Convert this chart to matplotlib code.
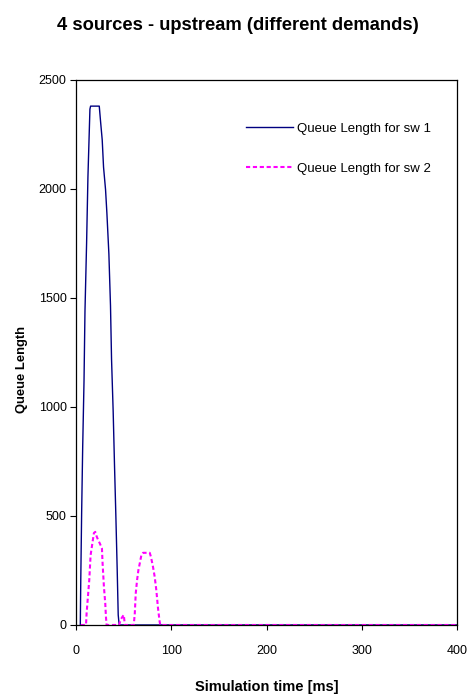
import matplotlib
matplotlib.use("Agg")
import matplotlib.pyplot as plt

plt.rcParams['font.family'] = ['Liberation Sans', 'DejaVu Sans']

title = "4 sources - upstream (different demands)"
xlabel = "Simulation time [ms]"
ylabel = "Queue Length"
labels = ["Queue Length for sw 1", "Queue Length for sw 2"]

sw1_t = [4.5, 5.0, 5.9, 7.0, 8.4, 9.4, 11.1, 12.5, 14.6, 15.3, 24.4, 25.8, 27.5,
         28.9, 31.0, 32.4, 34.5, 36.2, 37.3, 39.0, 40.4, 41.8, 43.2, 44.3, 45.3, 400]
sw1_v = [0, 210, 513, 816, 1120, 1439, 1751, 2054, 2366, 2380, 2380, 2308, 2225,
         2100, 1997, 1890, 1702, 1464, 1218, 980, 734, 505, 259, 46, 0, 0]

sw2_t = [4.9, 10.5, 11.1, 12.5, 13.9, 15.3, 17.1, 18.8, 20.2, 21.6, 23.0, 25.1, 27.2,
         27.9, 29.3, 30.7, 31.4, 32.1, 45.3, 46.7, 48.8, 50.2, 51.2, 60.6, 61.7, 62.7,
         64.1, 65.5, 66.9, 68.6, 70.4, 77.4, 78.7, 80.8, 82.6, 84.3, 86.1, 87.8, 88.5, 400]
sw2_v = [0, 0, 53, 130, 206, 320, 373, 422, 427, 407, 392, 373, 351,
         282, 175, 99, 38, 0, 0, 23, 38, 46, 0, 0, 53, 145,
         206, 252, 282, 320, 331, 331, 312, 267, 221, 160, 76, 15, 0, 0]

xticks = [0, 100, 200, 300, 400]
yticks = [0, 500, 1000, 1500, 2000, 2500]

fig = plt.figure(figsize=(4.71, 6.99), dpi=100)
ax = fig.add_axes([0.1614, 0.1059, 0.8089, 0.7797])

ax.plot(sw1_t, sw1_v, color='#000080', lw=1.0, label=labels[0])
ax.plot(sw2_t, sw2_v, color='#FF00FF', lw=1.5, linestyle=(0, (2.0, 1.3)), label=labels[1])

ax.set_xlim(0, 400)
ax.set_ylim(0, 2500)
ax.set_xticks(xticks)
ax.set_yticks(yticks)
ax.tick_params(axis='x', direction='out', length=3.6, width=0.8, labelsize=9, pad=11)
ax.tick_params(axis='y', direction='out', length=4.3, width=0.8, labelsize=9, pad=2.5)
for s in ax.spines.values():
    s.set_linewidth(0.9)
    s.set_color('black')

fig.text(0.5658, 0.0165, xlabel, fontsize=10.5, fontweight='bold', ha='center', va='center')
fig.text(0.0467, 0.4714, ylabel, fontsize=9.4, fontweight='bold', ha='center', va='center',
         rotation=90)
fig.text(0.505, 0.963, title, fontsize=13.2, fontweight='bold', ha='center', va='center')

leg = ax.legend(loc='upper left', bbox_to_anchor=(0.446, 0.922), frameon=False,
                fontsize=9.5, handlelength=3.56, handletextpad=0.3, labelspacing=2.1,
                borderaxespad=0, borderpad=0)

fig.savefig("out.png", dpi=100)
